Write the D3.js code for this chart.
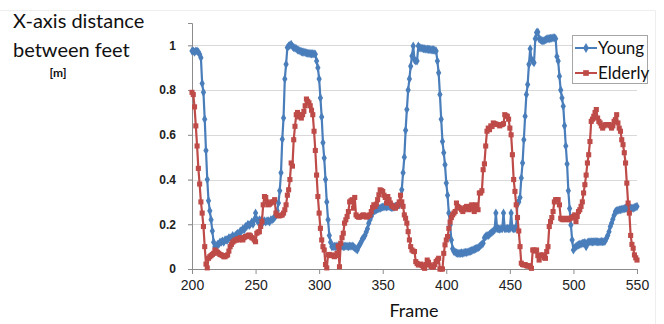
<!DOCTYPE html>
<html lang="en">
<head>
<meta charset="UTF-8">
<title>X-axis distance between feet</title>
<script src="https://d3js.org/d3.v7.min.js"></script>
<style>
  body { margin: 0; background: #fff; font-family: Lato, "Open Sans", sans-serif; }
  .y-axis text { font-size: 12px; font-weight: bold; fill: #222; }
  .x-axis text { font-size: 14px; fill: #222; }
  .grid line { stroke: #d9d9d9; }
</style>
</head>
<body>
<svg width="664" height="324"></svg>
<script>
// one value per frame, starting at frame 200
const firstFrame = 200;

const young = [
  0.975, 0.975, 0.97, 0.975, 0.975, 0.97, 0.96, 0.945, 0.83, 0.79,
  0.67, 0.53, 0.40, 0.305, 0.26, 0.22, 0.17, 0.12, 0.10, 0.10,
  0.11, 0.11, 0.12, 0.12, 0.125, 0.12, 0.13, 0.13, 0.13, 0.14,
  0.14, 0.14, 0.15, 0.14, 0.15, 0.155, 0.16, 0.155, 0.17, 0.17,
  0.18, 0.175, 0.19, 0.19, 0.20, 0.195, 0.20, 0.21, 0.20, 0.22,
  0.25, 0.22, 0.21, 0.22, 0.215, 0.22, 0.21, 0.215, 0.21, 0.215,
  0.215, 0.21, 0.22, 0.22, 0.225, 0.23, 0.24, 0.26, 0.295, 0.35,
  0.43, 0.58, 0.675, 0.85, 0.915, 0.99, 0.997, 1.0, 1.005, 0.995,
  0.99, 0.988, 0.985, 0.98, 0.978, 0.975, 0.972, 0.97, 0.97, 0.968,
  0.966, 0.965, 0.964, 0.963, 0.962, 0.963, 0.962, 0.96, 0.93, 0.90,
  0.85, 0.765, 0.68, 0.565, 0.496, 0.40, 0.30, 0.22, 0.15, 0.12,
  0.10, 0.10, 0.102, 0.10, 0.103, 0.101, 0.10, 0.102, 0.103, 0.10,
  0.101, 0.103, 0.102, 0.10, 0.103, 0.102, 0.103, 0.10, 0.095, 0.09,
  0.085, 0.10, 0.11, 0.12, 0.135, 0.14, 0.15, 0.165, 0.18, 0.205,
  0.22, 0.235, 0.25, 0.258, 0.262, 0.265, 0.268, 0.27, 0.272, 0.275,
  0.277, 0.278, 0.28, 0.278, 0.28, 0.28, 0.278, 0.275, 0.275, 0.278,
  0.28, 0.282, 0.285, 0.287, 0.30, 0.354, 0.43, 0.50, 0.62, 0.713,
  0.80, 0.85, 0.907, 0.952, 0.997, 0.935, 0.93, 0.93, 0.997, 0.99,
  0.988, 0.987, 0.985, 0.985, 0.983, 0.983, 0.982, 0.982, 0.98, 0.98,
  0.98, 0.978, 0.975, 0.93, 0.877, 0.78, 0.67, 0.57, 0.52, 0.466,
  0.384, 0.33, 0.25, 0.197, 0.13, 0.09, 0.078, 0.075, 0.072, 0.07,
  0.07, 0.07, 0.072, 0.07, 0.073, 0.075, 0.074, 0.076, 0.078, 0.08,
  0.082, 0.085, 0.088, 0.09, 0.093, 0.095, 0.10, 0.105, 0.11, 0.115,
  0.14, 0.145, 0.15, 0.15, 0.155, 0.16, 0.165, 0.17, 0.175, 0.25,
  0.18, 0.18, 0.178, 0.18, 0.18, 0.25, 0.18, 0.18, 0.182, 0.18,
  0.18, 0.25, 0.182, 0.18, 0.18, 0.19, 0.295, 0.30, 0.32, 0.407,
  0.474, 0.578, 0.683, 0.78, 0.825, 0.915, 0.985, 0.937, 0.93, 0.922,
  1.03, 1.057, 1.06, 1.03, 1.025, 1.022, 1.02, 1.022, 1.025, 1.028,
  1.03, 1.03, 1.032, 1.032, 1.034, 1.034, 1.03, 0.95, 0.93, 0.862,
  0.80, 0.765, 0.728, 0.64, 0.55, 0.47, 0.35, 0.27, 0.197, 0.13,
  0.085, 0.095, 0.10, 0.105, 0.108, 0.11, 0.112, 0.115, 0.115, 0.118,
  0.10, 0.118, 0.12, 0.122, 0.122, 0.121, 0.122, 0.123, 0.122, 0.122,
  0.121, 0.122, 0.123, 0.122, 0.122, 0.125, 0.138, 0.15, 0.167, 0.19,
  0.205, 0.223, 0.24, 0.257, 0.26, 0.262, 0.265, 0.265, 0.267, 0.268,
  0.27, 0.272, 0.272, 0.272, 0.272, 0.272, 0.272, 0.272, 0.275, 0.277,
  0.28
];

const elderly = [
  0.79, 0.78, 0.725, 0.64, 0.55, 0.45, 0.38, 0.30, 0.25, 0.19,
  0.10, 0.022, 0.005, 0.048, 0.055, 0.06, 0.065, 0.07, 0.085, 0.08,
  0.075, 0.07, 0.065, 0.063, 0.06, 0.055, 0.055, 0.06, 0.063, 0.08,
  0.10, 0.11, 0.12, 0.125, 0.13, 0.13, 0.135, 0.13, 0.14, 0.135,
  0.13, 0.14, 0.145, 0.145, 0.15, 0.152, 0.148, 0.14, 0.138, 0.13,
  0.122, 0.16, 0.165, 0.167, 0.19, 0.212, 0.287, 0.324, 0.32, 0.30,
  0.287, 0.29, 0.295, 0.30, 0.30, 0.31, 0.25, 0.24, 0.238, 0.238,
  0.24, 0.242, 0.25, 0.265, 0.287, 0.33, 0.354, 0.40, 0.474, 0.46,
  0.578, 0.638, 0.69, 0.70, 0.68, 0.69, 0.675, 0.69, 0.705, 0.73,
  0.76, 0.75, 0.743, 0.73, 0.71, 0.69, 0.616, 0.53, 0.42, 0.324,
  0.25, 0.182, 0.13, 0.10, 0.085, 0.02, 0.005, 0.063, 0.065, 0.06,
  0.063, 0.06, 0.055, 0.06, 0.07, 0.103, 0.01, 0.115, 0.14, 0.16,
  0.205, 0.22, 0.235, 0.257, 0.30, 0.305, 0.31, 0.272, 0.32, 0.242,
  0.235, 0.232, 0.232, 0.235, 0.24, 0.242, 0.235, 0.232, 0.235, 0.24,
  0.242, 0.257, 0.275, 0.287, 0.28, 0.29, 0.31, 0.332, 0.354, 0.35,
  0.347, 0.33, 0.32, 0.295, 0.324, 0.31, 0.295, 0.285, 0.28, 0.275,
  0.272, 0.28, 0.287, 0.30, 0.33, 0.30, 0.28, 0.242, 0.227, 0.205,
  0.167, 0.13, 0.10, 0.085, 0.08, 0.078, 0.033, 0.025, 0.018, 0.02,
  0.022, 0.015, 0.008, 0.003, 0.02, 0.04, 0.03, 0.018, 0.012, 0.008,
  0.01, 0.02, 0.033, 0.04, 0.048, 0.0, 0.0, 0.0, 0.07, 0.108,
  0.13, 0.145, 0.182, 0.21, 0.23, 0.242, 0.25, 0.257, 0.295, 0.28,
  0.275, 0.272, 0.265, 0.257, 0.265, 0.275, 0.28, 0.27, 0.265, 0.28,
  0.287, 0.27, 0.257, 0.287, 0.275, 0.265, 0.34, 0.34, 0.35, 0.444,
  0.47, 0.55, 0.616, 0.63, 0.623, 0.64, 0.637, 0.653, 0.65, 0.648,
  0.646, 0.646, 0.64, 0.645, 0.646, 0.65, 0.69, 0.685, 0.683, 0.67,
  0.63, 0.60, 0.511, 0.40, 0.347, 0.287, 0.23, 0.17, 0.10, 0.026,
  0.02, 0.018, 0.02, 0.015, 0.013, 0.015, 0.01, 0.003, 0.085, 0.085,
  0.08, 0.085, 0.06, 0.04, 0.063, 0.06, 0.063, 0.05, 0.048, 0.078,
  0.10, 0.19, 0.212, 0.23, 0.257, 0.30, 0.31, 0.31, 0.31, 0.287,
  0.227, 0.222, 0.22, 0.225, 0.227, 0.222, 0.22, 0.225, 0.228, 0.23,
  0.235, 0.242, 0.212, 0.235, 0.257, 0.265, 0.28, 0.30, 0.34, 0.377,
  0.42, 0.474, 0.511, 0.57, 0.66, 0.67, 0.683, 0.70, 0.713, 0.675,
  0.66, 0.653, 0.64, 0.63, 0.64, 0.645, 0.646, 0.645, 0.646, 0.64,
  0.63, 0.64, 0.66, 0.668, 0.69, 0.653, 0.63, 0.616, 0.578, 0.556,
  0.52, 0.474, 0.384, 0.295, 0.25, 0.15, 0.11, 0.093, 0.063, 0.05,
  0.04
];

const xTicks = [200, 250, 300, 350, 400, 450, 500, 550];
const yTicks = [0, 0.2, 0.4, 0.6, 0.8, 1];
const seriesNames = ["Young", "Elderly"];
const seriesColors = ["#4a7ebb", "#be4b48"];

const svg = d3.select("svg");
const margin = { top: 23, right: 27, bottom: 55, left: 192 };
const width = 664 - margin.left - margin.right;
const height = 324 - margin.top - margin.bottom;

const x = d3.scaleLinear().domain([200, 550]).range([0, width]);
const y = d3.scaleLinear().domain([0, 1.1]).range([height, 0]);

// faint chart border like the Excel chart area
svg.append("path").attr("d", "M0,10.5H655.5V324")
  .attr("fill", "none").attr("stroke", "#eeeeee");

const g = svg.append("g").attr("transform", `translate(${margin.left},${margin.top})`);

// gridlines
g.append("g").attr("class", "grid")
  .selectAll("line").data(yTicks.filter(d => d > 0)).join("line")
  .attr("x1", -4).attr("x2", width)
  .attr("y1", d => Math.round(y(d)) + 0.5).attr("y2", d => Math.round(y(d)) + 0.5);

// axes
const yAxis = g.append("g").attr("class", "y-axis")
  .call(d3.axisLeft(y).tickValues(yTicks).tickFormat(d3.format("~g")).tickSize(4).tickPadding(12));
const xAxis = g.append("g").attr("class", "x-axis").attr("transform", `translate(0,${height})`)
  .call(d3.axisBottom(x).tickValues(xTicks).tickSize(5).tickPadding(6));
[yAxis, xAxis].forEach(a => {
  a.select(".domain").attr("stroke", "#8c8c8c");
  a.selectAll(".tick line").attr("stroke", "#8c8c8c");
});

const series = [young, elderly].map((vals, k) => ({
  name: seriesNames[k],
  color: seriesColors[k],
  symbol: k === 0 ? d3.symbolDiamond : d3.symbolSquare,
  size: k === 0 ? 24 : 26,
  points: vals.map((v, i) => ({ frame: firstFrame + i, value: v }))
}));

const line = d3.line().x(d => x(d.frame)).y(d => y(d.value));

series.forEach(s => {
  const sg = g.append("g");
  sg.append("path").datum(s.points)
    .attr("d", line).attr("fill", "none")
    .attr("stroke", s.color).attr("stroke-width", 2.2).attr("stroke-linejoin", "round");
  sg.selectAll("path.mark").data(s.points).join("path").attr("class", "mark")
    .attr("d", d3.symbol().type(s.symbol).size(s.size))
    .attr("transform", d => `translate(${x(d.frame)},${y(d.value)})`)
    .attr("fill", s.color);
});

// legend
const legend = svg.append("g").attr("transform", "translate(572,35)");
legend.append("rect").attr("x", 0.5).attr("y", 0.5).attr("width", 75).attr("height", 48)
  .attr("fill", "#fff").attr("stroke", "#a6a6a6");
series.forEach((s, i) => {
  const ly = 13 + i * 25;
  legend.append("line").attr("x1", 3).attr("x2", 25).attr("y1", ly).attr("y2", ly)
    .attr("stroke", s.color).attr("stroke-width", 2);
  legend.append("path").attr("d", d3.symbol().type(s.symbol).size(s.size + 6))
    .attr("transform", `translate(14,${ly})`).attr("fill", s.color);
  legend.append("text").attr("x", 26).attr("y", ly + 6)
    .attr("font-size", 17).attr("fill", "#111").text(s.name);
});

// titles
svg.append("text").attr("x", 414).attr("y", 317).attr("text-anchor", "middle")
  .attr("font-size", 18).attr("fill", "#111").text("Frame");
svg.append("text").attr("x", 13).attr("y", 28).attr("font-size", 20).attr("fill", "#111").text("X-axis distance");
svg.append("text").attr("x", 13).attr("y", 57).attr("font-size", 20).attr("fill", "#111").text("between feet");
svg.append("text").attr("x", 58).attr("y", 77).attr("text-anchor", "middle")
  .attr("font-size", 12).attr("font-weight", "bold").attr("fill", "#111").text("[m]");
</script>
</body>
</html>
